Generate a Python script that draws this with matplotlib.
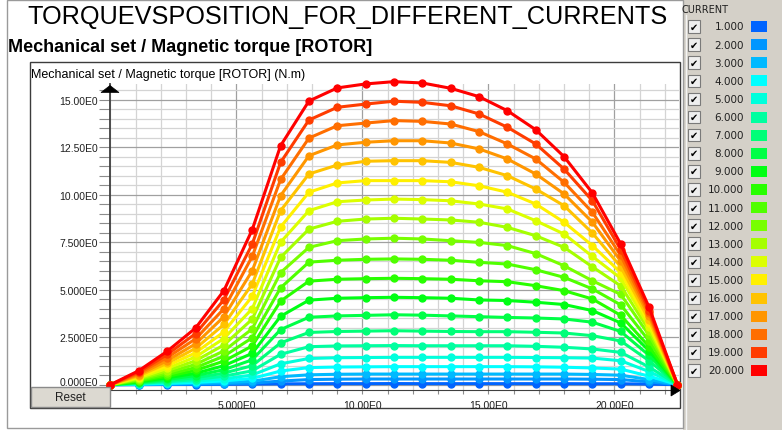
import matplotlib
matplotlib.use("Agg")
import matplotlib.pyplot as plt
import matplotlib.transforms as mtransforms
from matplotlib.patches import Rectangle, Polygon
from matplotlib.ticker import MultipleLocator, FixedLocator, FixedFormatter

# rotor position (x axis)
position = [0.0, 1.125, 2.25, 3.375, 4.5, 5.625, 6.75, 7.875, 9.0, 10.125, 11.25,
            12.375, 13.5, 14.625, 15.75, 16.875, 18.0, 19.125, 20.25, 21.375, 22.5]

currents = [1, 2, 3, 4, 5, 6, 7, 8, 9, 10, 11, 12, 13, 14, 15, 16, 17, 18, 19, 20]

colors = ["#0064FF", "#0096FF", "#00B9FF", "#00FFFF", "#00FFDC",
          "#00FFA0", "#00FF78", "#00FF46", "#00FF14", "#28FF00",
          "#50FF00", "#78FF00", "#A5FF00", "#DCFF00", "#FFF000",
          "#FFC300", "#FF9600", "#FF6E00", "#FF3C00", "#FF0000"]

# magnetic torque (N.m), one row per current
torque = [
    [0, 0.0, 0.01, 0.01, 0.02, 0.03, 0.045, 0.05, 0.055, 0.055, 0.06, 0.055, 0.055, 0.055, 0.055, 0.055, 0.055, 0.05, 0.05, 0.03, 0],
    [0, 0.01, 0.02, 0.03, 0.05, 0.08, 0.19, 0.27, 0.29, 0.3, 0.3, 0.3, 0.3, 0.3, 0.3, 0.3, 0.3, 0.29, 0.27, 0.15, 0],
    [0, 0.02, 0.04, 0.07, 0.11, 0.18, 0.42, 0.52, 0.55, 0.56, 0.56, 0.56, 0.56, 0.56, 0.56, 0.56, 0.56, 0.54, 0.5, 0.27, 0],
    [0, 0.03, 0.07, 0.12, 0.2, 0.33, 0.72, 0.9, 0.93, 0.94, 0.95, 0.95, 0.95, 0.95, 0.95, 0.94, 0.92, 0.88, 0.82, 0.45, 0],
    [0, 0.05, 0.11, 0.19, 0.31, 0.51, 1.1, 1.38, 1.42, 1.43, 1.44, 1.44, 1.44, 1.44, 1.44, 1.43, 1.42, 1.4, 1.26, 0.69, 0],
    [0, 0.07, 0.16, 0.27, 0.45, 0.73, 1.6, 2.0, 2.04, 2.05, 2.06, 2.05, 2.05, 2.05, 2.05, 2.02, 1.97, 1.88, 1.7, 0.93, 0],
    [0, 0.09, 0.22, 0.37, 0.61, 1.0, 2.2, 2.75, 2.8, 2.82, 2.84, 2.82, 2.8, 2.79, 2.79, 2.76, 2.72, 2.58, 2.3, 1.26, 0],
    [0, 0.12, 0.28, 0.48, 0.79, 1.31, 2.9, 3.55, 3.62, 3.65, 3.68, 3.66, 3.62, 3.58, 3.54, 3.51, 3.46, 3.29, 2.8, 1.54, 0],
    [0, 0.15, 0.36, 0.6, 1.0, 1.65, 3.6, 4.45, 4.55, 4.58, 4.6, 4.58, 4.55, 4.46, 4.43, 4.34, 4.22, 3.9, 3.25, 1.78, 0],
    [0, 0.19, 0.44, 0.75, 1.24, 2.04, 4.4, 5.45, 5.55, 5.58, 5.6, 5.58, 5.55, 5.47, 5.42, 5.21, 4.95, 4.51, 3.65, 2.0, 0],
    [0, 0.22, 0.53, 0.9, 1.5, 2.47, 5.1, 6.45, 6.55, 6.6, 6.62, 6.6, 6.55, 6.44, 6.35, 6.05, 5.65, 5.04, 4.2, 2.3, 0],
    [0, 0.27, 0.63, 1.07, 1.78, 2.94, 5.9, 7.23, 7.58, 7.67, 7.71, 7.67, 7.58, 7.49, 7.32, 6.9, 6.26, 5.47, 4.75, 2.6, 0],
    [0, 0.31, 0.74, 1.26, 2.09, 3.45, 6.7, 8.19, 8.6, 8.72, 8.76, 8.72, 8.67, 8.55, 8.28, 7.84, 7.23, 6.2, 5.2, 2.85, 0],
    [0, 0.36, 0.86, 1.46, 2.43, 4.0, 7.5, 9.16, 9.63, 9.72, 9.77, 9.74, 9.68, 9.51, 9.25, 8.63, 7.93, 6.75, 5.6, 3.05, 0],
    [0, 0.42, 0.99, 1.68, 2.78, 4.65, 8.3, 10.13, 10.62, 10.74, 10.74, 10.74, 10.68, 10.47, 10.13, 9.51, 8.55, 7.32, 5.9, 3.25, 0],
    [0, 0.47, 1.13, 1.91, 3.17, 5.3, 9.16, 11.09, 11.56, 11.76, 11.79, 11.79, 11.7, 11.44, 11.0, 10.3, 9.42, 7.98, 6.2, 3.4, 0],
    [0, 0.53, 1.27, 2.15, 3.58, 6.0, 9.95, 12.05, 12.62, 12.76, 12.84, 12.84, 12.72, 12.41, 11.88, 11.09, 10.04, 8.55, 6.5, 3.6, 0],
    [0, 0.6, 1.43, 2.41, 4.0, 6.75, 10.8, 12.98, 13.63, 13.77, 13.9, 13.86, 13.72, 13.32, 12.67, 11.88, 10.65, 9.07, 6.8, 3.75, 0],
    [0, 0.67, 1.59, 2.69, 4.47, 7.4, 11.7, 13.93, 14.6, 14.77, 14.92, 14.86, 14.68, 14.25, 13.55, 12.67, 11.35, 9.68, 7.1, 3.9, 0],
    [0, 0.74, 1.76, 2.98, 4.95, 8.16, 12.58, 14.93, 15.62, 15.83, 15.95, 15.88, 15.6, 15.16, 14.42, 13.42, 12.0, 10.09, 7.4, 4.07, 0],
]

x_ticks = [5, 10, 15, 20]
x_ticklabels = ["5.000E0", "10.00E0", "15.00E0", "20.00E0"]
y_ticks = [0, 2.5, 5, 7.5, 10, 12.5, 15]
y_ticklabels = ["0.000E0", "2.500E0", "5.000E0", "7.500E0", "10.00E0", "12.50E0", "15.00E0"]

title = "TORQUEVSPOSITION_FOR_DIFFERENT_CURRENTS"
subtitle = "Mechanical set / Magnetic torque [ROTOR]"
ylabel = "Mechanical set / Magnetic torque [ROTOR] (N.m)"

W, H = 782, 431
fig = plt.figure(figsize=(W / 100, H / 100), dpi=100, facecolor="white")
# pixel coordinates, origin top-left
pix = mtransforms.Affine2D().scale(1 / W, -1 / H).translate(0, 1) + fig.transFigure
SANS = "Liberation Sans"

# panel frames and legend background
fig.patches.append(Rectangle((683, 0), W - 683, H, fc="#D4D0C8", ec="none",
                             transform=pix, zorder=-3))
fig.patches.append(Rectangle((7, 1), 676, 428, fill=False, ec="#9A9A9A", lw=1,
                             transform=pix, zorder=-2))
fig.patches.append(Rectangle((30, 63), 650, 346, fill=False, ec="#3C3C3C", lw=1,
                             transform=pix, zorder=-2))

fig.text(347 / W, 1 - 17 / H, title, family=SANS, fontsize=18.2,
         ha="center", va="center")
fig.text(8 / W, 1 - 48 / H, subtitle, family=SANS, fontsize=13, weight="bold",
         ha="left", va="center")
fig.text(31 / W, 1 - 75 / H, ylabel, family=SANS, fontsize=9,
         ha="left", va="center")

# plot area
left, right, top, bottom = 110.5, 679, 85, 391
ax = fig.add_axes([left / W, 1 - bottom / H, (right - left) / W, (bottom - top) / H])
ax.set_xlim(0, 22.56)
ax.set_ylim(-0.279, 15.826)

for i in range(len(currents)):
    ax.plot(position, torque[i], color=colors[i], lw=2.2, marker="o", ms=5,
            mec=colors[i], clip_on=False, zorder=3 + i * 0.01)

ax.xaxis.set_major_locator(FixedLocator(x_ticks))
ax.xaxis.set_major_formatter(FixedFormatter(x_ticklabels))
ax.xaxis.set_minor_locator(MultipleLocator(1))
ax.yaxis.set_major_locator(FixedLocator(y_ticks))
ax.yaxis.set_major_formatter(FixedFormatter(y_ticklabels))
ax.yaxis.set_minor_locator(MultipleLocator(0.5))

ax.grid(which="major", color="#A0A0A0", lw=0.9)
ax.grid(which="minor", color="#D4D4D4", lw=0.9)
ax.set_axisbelow(True)

ax.tick_params(axis="y", which="both", direction="out", length=8, width=0.8,
               color="#8C8C8C", pad=1, labelsize=7.5)
ax.tick_params(axis="x", which="both", direction="out", length=3, width=0.8,
               color="#8C8C8C", pad=4, labelsize=7.5)
for lab in ax.get_xticklabels() + ax.get_yticklabels():
    lab.set_family(SANS)
    lab.set_color("#202020")
# zero label sits a little higher, above the reset button
zero_lab = ax.get_yticklabels()[0]
zero_lab.set_transform(zero_lab.get_transform()
                       + mtransforms.ScaledTranslation(0, 3 / 72, fig.dpi_scale_trans))

for side in ["top", "right"]:
    ax.spines[side].set_visible(False)
ax.spines["left"].set_color("#404040")
ax.spines["left"].set_linewidth(1.3)
ax.spines["bottom"].set_color("#404040")

# axis arrows
fig.patches.append(Polygon([(101, 93.5), (119, 93.5), (110, 86.5)], closed=True,
                           fc="black", ec="black", lw=0.5, transform=pix, zorder=5))
fig.patches.append(Polygon([(671, 386), (671, 397), (680, 391.5)], closed=True,
                           fc="black", ec="black", lw=0.5, transform=pix, zorder=5))

# reset button
fig.patches.append(Rectangle((31, 388), 79, 20, fc="#DCD9D1", ec="#8A8A8A", lw=1,
                             transform=pix, zorder=2))
fig.text(70 / W, 1 - 398 / H, "Reset", family=SANS, fontsize=8.5,
         ha="center", va="center", color="#202020")

# current legend
fig.lines.append(plt.Line2D([685.5, 685.5], [16, H], color="#F4F4F4", lw=1,
                            transform=pix, zorder=-1))
fig.text(682 / W, 1 - 10 / H, "CURRENT", family="DejaVu Sans", fontsize=7,
         ha="left", va="center", color="#202020")
for i, cur in enumerate(currents):
    yc = 27.5 + 18.1 * i
    fig.patches.append(Rectangle((687.5, yc - 6.3), 12.5, 12.6, fc="#EEEEEE",
                                 ec="#7A7A7A", lw=0.8, transform=pix, zorder=1))
    fig.text(693.7 / W, 1 - yc / H, "\u2714", family="DejaVu Sans", fontsize=7,
             ha="center", va="center", color="black")
    fig.text(744 / W, 1 - yc / H, "%.3f" % cur, family="DejaVu Sans", fontsize=7.5,
             ha="right", va="center", color="#202020")
    fig.patches.append(Rectangle((751, yc - 5.5), 16, 11, fc=colors[i], ec="none",
                                 transform=pix, zorder=1))

fig.savefig("out.png", dpi=100)
